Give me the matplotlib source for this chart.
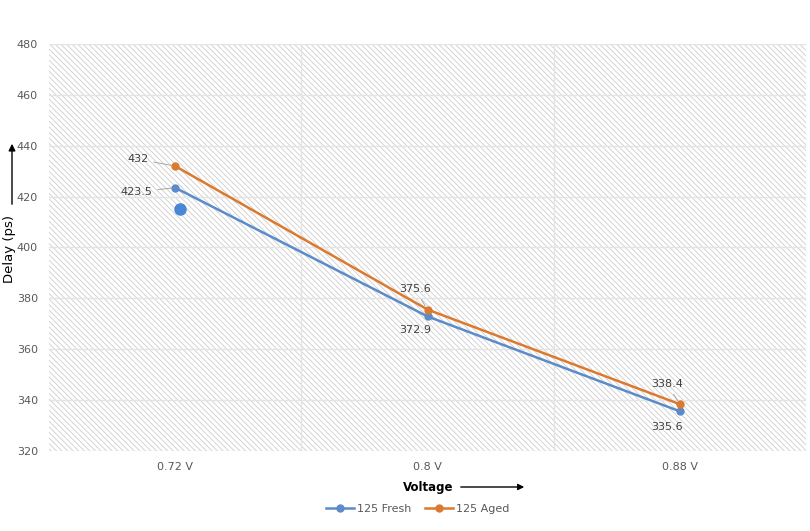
import matplotlib.pyplot as plt
import matplotlib.patches as mpatches

voltages = ["0.72 V", "0.8 V", "0.88 V"]
fresh = [423.5, 372.9, 335.6]
aged = [432, 375.6, 338.4]
stray_x = [0.02]
stray_y = [415.2]

blue = "#5B8BC9"
orange = "#DB7A2E"

plt.rcParams["hatch.linewidth"] = 0.6
plt.rcParams["hatch.color"] = "#CDCDCD"

fig = plt.figure(figsize=(8.1, 5.31), dpi=100)
ax = fig.add_axes([49 / 810, 80 / 531, 757 / 810, 407 / 531])

x = list(range(len(voltages)))

bg = mpatches.Rectangle((0, 0), 1, 1, transform=ax.transAxes, facecolor="white",
                        edgecolor="#CDCDCD", hatch="\\\\\\\\\\\\", linewidth=0, zorder=0)
ax.add_patch(bg)

for v in range(320, 481, 20):
    ax.axhline(v, color="#E4E4E4", lw=1, zorder=1)
for b in [0.5, 1.5]:
    ax.axvline(b, color="#E4E4E4", lw=1, zorder=1)

ax.plot(x, fresh, color=blue, lw=1.8, marker="o", ms=5, zorder=3, label="125 Fresh")
ax.plot(x, aged, color=orange, lw=1.8, marker="o", ms=5, zorder=3, label="125 Aged")
ax.plot(stray_x, stray_y, "o", color="#4A86D6", ms=8, zorder=4)

ax.set_xlim(-0.5, 2.5)
ax.set_ylim(320, 480)
ax.set_yticks(range(320, 481, 20))
ax.set_xticks(x)
ax.set_xticklabels(voltages)
ax.tick_params(length=0, labelsize=8, colors="#595959", pad=8)
for s in ax.spines.values():
    s.set_visible(False)

lab = dict(fontsize=8, color="#404040", ha="center", va="center",
           textcoords="offset points")
leader = dict(arrowstyle="-", color="#A6A6A6", lw=0.7, shrinkA=2, shrinkB=3)
ax.annotate("432", (x[0], aged[0]), xytext=(-27, 5), arrowprops=leader, **lab)
ax.annotate("423.5", (x[0], fresh[0]), xytext=(-28, -3), arrowprops=leader, **lab)
ax.annotate("375.6", (x[1], aged[1]), xytext=(-9, 14.5), arrowprops=leader, **lab)
ax.annotate("372.9", (x[1], fresh[1]), xytext=(-9, -10), **lab)
ax.annotate("338.4", (x[2], aged[2]), xytext=(-9, 14.5), arrowprops=leader, **lab)
ax.annotate("335.6", (x[2], fresh[2]), xytext=(-9, -11), **lab)

fig.text(9.5 / 810, 1 - 249 / 531, "Delay (ps)", rotation=90, ha="center", va="center",
         fontsize=9.5)
fig.add_artist(mpatches.FancyArrowPatch((12 / 810, 1 - 207 / 531), (12 / 810, 1 - 141 / 531),
                                        transform=fig.transFigure, arrowstyle="-|>",
                                        mutation_scale=10, color="black", lw=1))
fig.text(428 / 810, 1 - 488 / 531, "Voltage", ha="center", va="center",
         fontsize=8.5, fontweight="bold")
fig.add_artist(mpatches.FancyArrowPatch((458 / 810, 1 - 487 / 531), (527 / 810, 1 - 487 / 531),
                                        transform=fig.transFigure, arrowstyle="-|>",
                                        mutation_scale=9, color="black", lw=1))

fig.legend(loc="center", bbox_to_anchor=(418 / 810, 1 - 509 / 531), ncol=2, frameon=False,
           fontsize=8, handlelength=2.5, columnspacing=1.2, handletextpad=0.3,
           labelcolor="#595959")

fig.savefig("out.png", dpi=100)
